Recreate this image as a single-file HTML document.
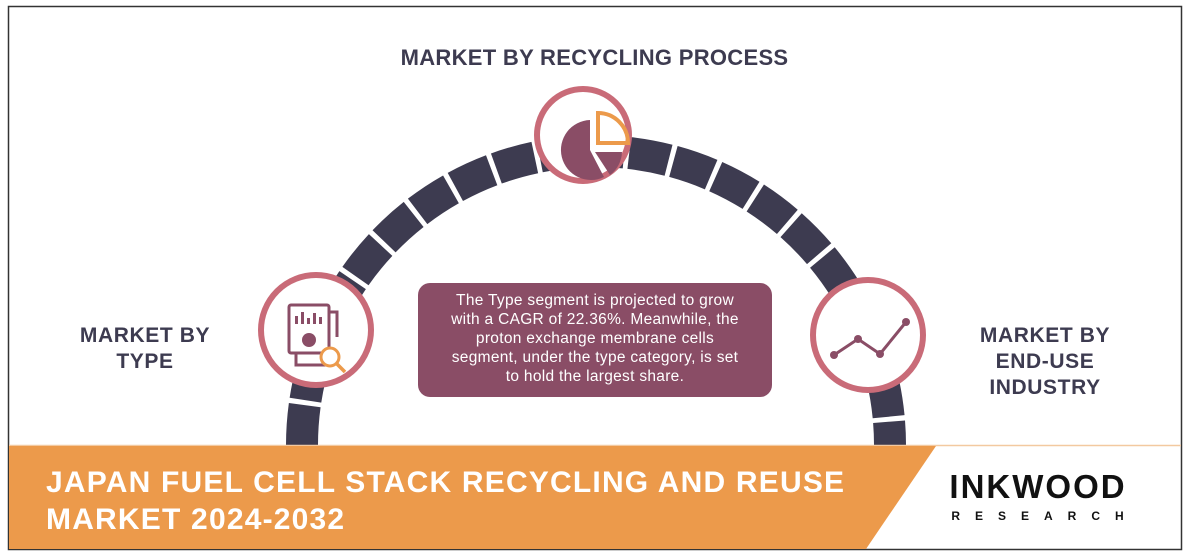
<!DOCTYPE html>
<html><head><style>
body{margin:0;background:#fff;}
.w{position:relative;width:1189px;height:557px;overflow:hidden;font-family:"Liberation Sans",sans-serif;}
</style></head><body><div class="w">
<svg width="1189" height="557" style="position:absolute;left:0;top:0">
<rect x="8.5" y="6.5" width="1173" height="543" fill="#fff" stroke="#333" stroke-width="1.5"/>
<path d="M 302 445 A 294 294 0 0 1 890 445" fill="none" stroke="#3d3b50" stroke-width="32" stroke-dasharray="40 5"/>
<line x1="9" y1="445.5" x2="1181" y2="445.5" stroke="#f3c9a0" stroke-width="1.5"/>
<polygon points="9,446 936,446 866,549 9,549" fill="#ec9a4b"/>
<g stroke="#c96b78" stroke-width="6" fill="#fff">
<circle cx="583" cy="135" r="46"/>
<circle cx="316" cy="330" r="55"/>
<circle cx="868" cy="335" r="55"/>
</g>
<!-- pie icon -->
<path d="M 590 150 L 590 120 A 30 30 0 1 0 604 177 Z" fill="#8a4d66"/>
<path d="M 595 152 L 622 152 A 30 30 0 0 1 610 175 Z" fill="#8a4d66"/>
<path d="M 598 113 L 598 143 L 628 143 A 30 30 0 0 0 598 113 Z" fill="none" stroke="#ec9a4b" stroke-width="4"/>
<!-- line chart icon -->
<polyline points="834,355 858,339 880,354 906,322" fill="none" stroke="#8a4d66" stroke-width="3"/>
<g fill="#8a4d66"><circle cx="834" cy="355" r="4"/><circle cx="858" cy="339" r="4"/><circle cx="880" cy="354" r="4"/><circle cx="906" cy="322" r="4"/></g>
<!-- type icon -->
<g fill="none" stroke="#8a4d66" stroke-width="3">
<rect x="289" y="305" width="40" height="48" rx="2"/>
<path d="M329 312 h8 v25 M296 353 v12 h30"/>
</g>
<g fill="#8a4d66"><rect x="295" y="316" width="3" height="8"/><rect x="301" y="312" width="3" height="12"/><rect x="307" y="318" width="3" height="6"/><rect x="313" y="313" width="3" height="11"/><rect x="319" y="317" width="3" height="7"/><circle cx="309" cy="340" r="7"/></g>
<circle cx="330" cy="357" r="9" fill="#fff" stroke="#ec9a4b" stroke-width="3"/>
<line x1="337" y1="364" x2="345" y2="372" stroke="#ec9a4b" stroke-width="3.5"/>
<rect x="418" y="283" width="354" height="114" rx="12" fill="#8a4d66"/>
</svg>
<div style="position:absolute;left:0;width:1189px;top:45px;text-align:center;font-weight:bold;font-size:22px;letter-spacing:0.3px;color:#3d3b50;">MARKET BY RECYCLING PROCESS</div>
<div style="position:absolute;left:55px;width:180px;top:323px;text-align:center;font-weight:bold;font-size:21px;letter-spacing:0.6px;line-height:26px;color:#3d3b50;">MARKET BY<br>TYPE</div>
<div style="position:absolute;left:955px;width:180px;top:323px;text-align:center;font-weight:bold;font-size:21px;letter-spacing:0.6px;line-height:26px;color:#3d3b50;">MARKET BY<br>END-USE<br>INDUSTRY</div>
<div style="position:absolute;left:418px;width:354px;top:291px;text-align:center;font-size:15.5px;letter-spacing:0.3px;line-height:19px;color:#fff;">The Type segment is projected to grow<br>with a CAGR of 22.36%. Meanwhile, the<br>proton exchange membrane cells<br>segment, under the type category, is set<br>to hold the largest share.</div>
<div style="position:absolute;left:46px;top:464px;font-weight:bold;font-size:30px;letter-spacing:1.2px;line-height:37px;color:#fff;white-space:nowrap;">JAPAN FUEL CELL STACK RECYCLING AND REUSE<br>MARKET 2024-2032</div>
<div style="position:absolute;left:928px;width:220px;top:468px;text-align:center;font-weight:bold;font-size:33px;color:#111;letter-spacing:2px;">INKWOOD</div>
<div style="position:absolute;left:940px;width:210px;top:509px;text-align:center;font-weight:bold;font-size:12px;color:#111;letter-spacing:15px;">RESEARCH</div>
</div></body></html>
